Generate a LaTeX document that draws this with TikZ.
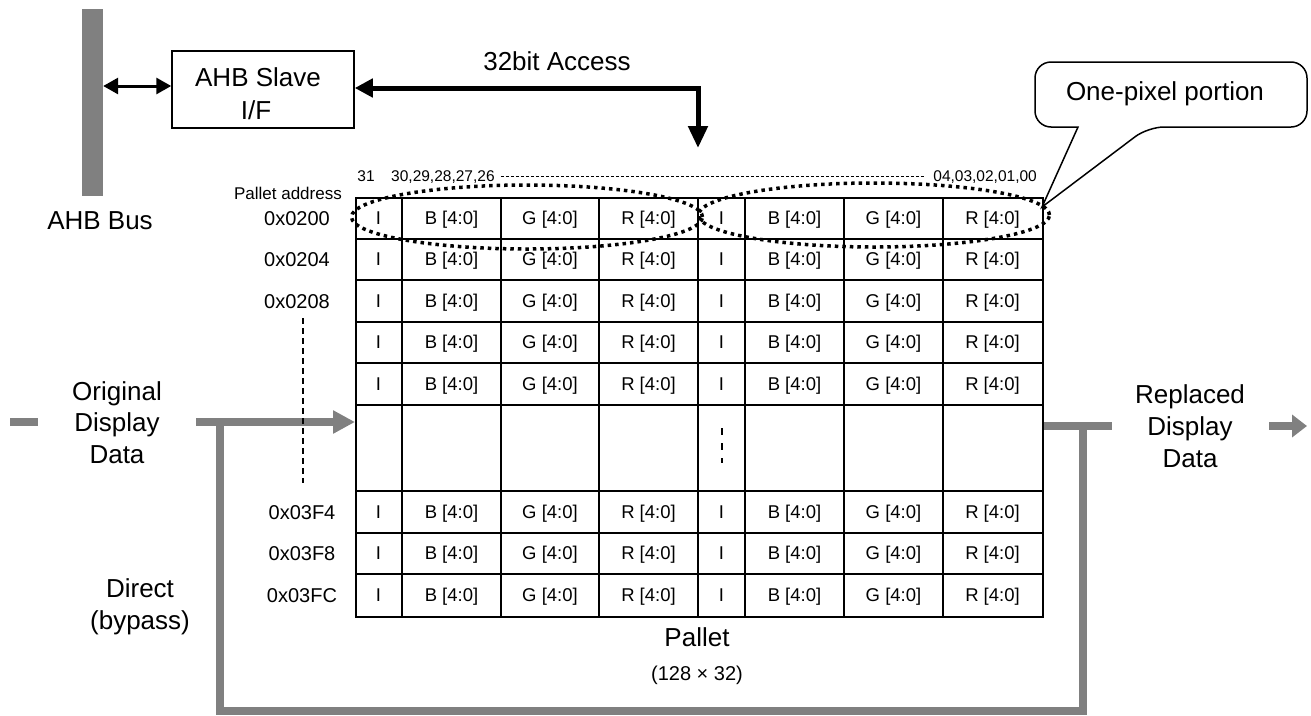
\documentclass[tikz,border=0pt]{standalone}
\usepackage{fontspec}
\setmainfont{Liberation Sans}
\usetikzlibrary{arrows.meta,shapes.geometric}
\definecolor{flowgray}{RGB}{128,128,128}
\begin{document}
\begin{tikzpicture}[x=1pt,y=-1pt,
  big/.style={font=\fontsize{26}{31}\selectfont, inner sep=0pt, anchor=base},
  cell/.style={font=\fontsize{18.5}{22}\selectfont, inner sep=0pt, anchor=base},
  addr/.style={font=\fontsize{20}{24}\selectfont, inner sep=0pt, anchor=base},
  hdr/.style={font=\fontsize{15.5}{18}\selectfont, inner sep=0pt, anchor=base},
  gridline/.style={line width=2pt},
  flow/.style={draw=flowgray, line width=8pt},
  dotring/.style={ellipse, draw, line width=3.5pt, dash pattern=on 3.5pt off 4pt,
    minimum width=351pt, minimum height=64pt, inner sep=0pt},
]
\useasboundingbox (0,0) rectangle (1311,715);

% AHB bus bar and slave interface
\node[fill=flowgray, minimum width=21pt, minimum height=187pt, inner sep=0pt] (bar) at (92.5,102.5) {};
\node[big] (busl) at (100,229) {AHB Bus};
\node[draw, line width=1.5pt, minimum width=182pt, minimum height=77pt, inner sep=0pt] (ahb) at (263,89.5) {};
\node[big] (ahbt1) at (258,86.7) {AHB Slave};
\node[big] (ahbt2) at (256,119.3) {I/F};
\draw[line width=3pt, {Triangle[length=15pt,width=16pt]}-{Triangle[length=15pt,width=16pt]}]
  (bar.east |- 0,86) -- (ahb.west |- 0,86);

% 32bit access
\node[big] (accl) at (557,70.7) {32bit Access};
\coordinate (accend) at (698,148);
\draw[line width=5pt, {Triangle[length=18pt,width=18pt]}-{Triangle[length=22pt,width=19pt]}]
  (ahb.east |- 0,88) -| (accend);

% header
\node[hdr] (h31) at (366,181) {31};
\node[hdr, anchor=base west] (hhi) at (391,181) {30,29,28,27,26};
\node[hdr, anchor=base east] (hlo) at (1037,181) {04,03,02,01,00};
\draw[line width=0.8pt, dash pattern=on 3pt off 2pt] ([xshift=6pt]hhi.east) -- ([xshift=-8pt]hlo.west);
\node[font=\fontsize{17}{20}\selectfont, inner sep=0pt, anchor=base east] (paddr) at (342,199.3) {Pallet address};

% table
\node[draw, line width=2pt, minimum width=687pt, minimum height=418.5pt, inner sep=0pt, anchor=north west] (tbl) at (355,197) {};
\foreach \x in {402,501,599,698,745,844,943} \draw[gridline] (\x,197) -- (\x,615.5);
\foreach \y in {238.5,280,321.5,363,404.5,491,532.5,574} \draw[gridline] (355,\y) -- (1042,\y);
\foreach \r/\yc in {1/217.75,2/259.25,3/300.75,4/342.25,5/383.75,6/511.75,7/553.25,8/594.75}{
  \foreach \c/\xc/\t in {1/378.5/I,2/451.5/B [4:0],3/550/G [4:0],4/648.5/R [4:0],5/721.5/I,6/794.5/B [4:0],7/893.5/G [4:0],8/992.5/R [4:0]}{
    \node[cell] (c\r-\c) at (\xc,\yc+6.6) {\t};
  }
}
\draw[line width=2pt, dash pattern=on 7pt off 8pt] (722,428) -- (722,463);

% addresses
\node[addr] (a1) at (297,225) {0x0200};
\node[addr] (a2) at (297,266.5) {0x0204};
\node[addr] (a3) at (297,308) {0x0208};
\node[addr] (a4) at (302,519.5) {0x03F4};
\node[addr] (a5) at (302,560.5) {0x03F8};
\node[addr] (a6) at (302,602) {0x03FC};

% flows
\coordinate (inStubA) at (10,422);
\coordinate (inStubB) at (38,422);
\draw[flow] (inStubA) -- (inStubB);
\coordinate (inL) at (196,422);
\draw[flow, -{Triangle[length=22pt,width=22pt]}] (inL) -- (inL -| tbl.west);
\coordinate (byTop) at (220,422);
\coordinate (byBot) at (220,711);
\coordinate (byR) at (1083,426);
\draw[flow] (byTop) -- (byBot) -- (byBot -| byR) -- (byR);
\coordinate (outStub) at (1112,426);
\draw[flow] (tbl.east |- byR) -- (outStub);
\coordinate (outA) at (1269,426);
\coordinate (outB) at (1307,426);
\draw[flow, -{Triangle[length=15pt,width=22pt]}] (outA) -- (outB);
\draw[line width=1.5pt, dash pattern=on 6pt off 4pt] (303,318) -- (303,483);

\node[big] (o1) at (117,400) {Original};
\node[big] (o2) at (117,431.7) {Display};
\node[big] (o3) at (117,463) {Data};
\node[big] (r1) at (1190,403) {Replaced};
\node[big] (r2) at (1190,435) {Display};
\node[big] (r3) at (1190,467) {Data};
\node[big] (d1) at (140,597) {Direct};
\node[big] (d2) at (140,629) {(bypass)};
\node[big] (pl) at (697,646) {Pallet};
\node[font=\fontsize{20}{24}\selectfont, inner sep=0pt, anchor=base] (psz) at (697,680) {(128 × 32)};

% pixel ellipses and callout
\node[dotring] (ell1) at (527,217) {};
\node[dotring] (ell2) at (874,215) {};
\coordinate (tip) at (1042,207);
\node[big] (callt) at (1165,100) {One-pixel portion};
\draw[line width=1.5pt, rounded corners=16pt] (1078,127) -- (1035,127) -- (1035,62) -- (1307,62) -- (1307,127) -- (1148,127) [sharp corners] -- (tip) -- cycle;
\end{tikzpicture}
\end{document}
